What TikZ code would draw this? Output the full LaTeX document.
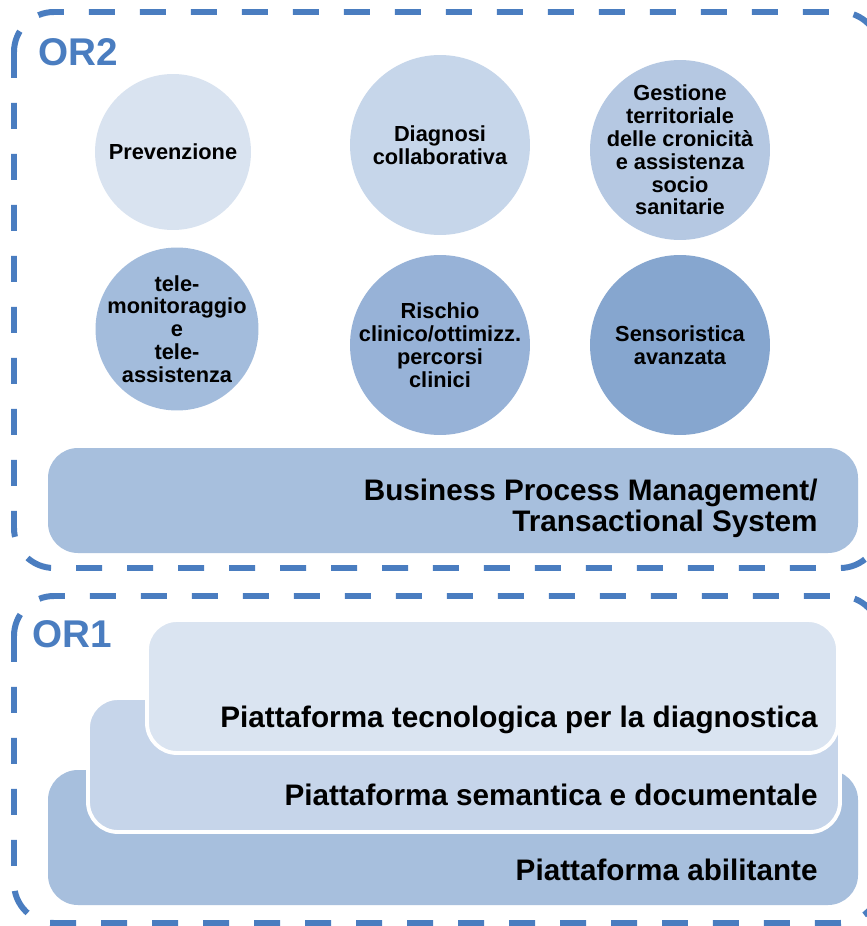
\documentclass[tikz,border=0pt]{standalone}
\usepackage{fontspec}
\setmainfont{Liberation Sans}
\usetikzlibrary{positioning}
\definecolor{orblue}{HTML}{4A7DC0}
\definecolor{bubA}{HTML}{D9E3F0}
\definecolor{bubB}{HTML}{C6D6EA}
\definecolor{bubC}{HTML}{B5C8E2}
\definecolor{bubD}{HTML}{A3BCDC}
\definecolor{bubE}{HTML}{97B2D7}
\definecolor{bubF}{HTML}{86A6CF}
\definecolor{layA}{HTML}{A7BFDD}
\definecolor{layB}{HTML}{C6D5EA}
\definecolor{layC}{HTML}{DAE4F1}
\tikzset{
  dashbox/.style={draw=orblue,line width=3.4pt,dash pattern=on 0.52cm off 0.5cm,rounded corners=0.8cm},
  bubble/.style={circle,inner sep=0pt},
  bubtext/.style={align=center,inner sep=0pt,font=\bfseries\fontsize{12.4}{13}\selectfont},
  layer/.style={rounded corners=0.6cm,draw=white,line width=2.2pt},
  layertext/.style={anchor=base east,inner sep=0pt,font=\bfseries\fontsize{16.9}{19}\selectfont},
  orlabel/.style={anchor=base west,inner sep=0pt,text=orblue,font=\bfseries\fontsize{22}{26}\selectfont}
}
\begin{document}
\begin{tikzpicture}[x=0.02cm,y=-0.02cm]
\useasboundingbox[fill=white] (0,0) rectangle (866,926);
\draw[dashbox] (14,12) rectangle (880,568);
\draw[dashbox] (14,596) rectangle (880,923);
\node[orlabel] (or2) at (38,66) {OR2};
\node[orlabel] (or1) at (32,647) {OR1};
\fill[layA,rounded corners=0.6cm] (48,448) rectangle (858,553);
\node[layertext] (bpm1) at (818,500) {Business Process Management/};
\node[layertext,below=0.2cm of bpm1.base east,anchor=north east] (bpm2) {Transactional System};
\fill[layA,rounded corners=0.6cm] (48,770) rectangle (858,905);
\draw[layer,fill=layB] (88,698) rectangle (840,832);
\draw[layer,fill=layC] (147,620) rectangle (838,753);
\node[layertext] (pt) at (818,727) {Piattaforma tecnologica per la diagnostica};
\node[layertext] (ps) at (818,805) {Piattaforma semantica e documentale};
\node[layertext] (pa) at (818,880) {Piattaforma abilitante};
\node[bubble,fill=bubA,minimum size=3.12cm] (prev) at (173,152) {};
\node[bubble,fill=bubB,minimum size=3.6cm] (diag) at (440,145) {};
\node[bubble,fill=bubC,minimum size=3.6cm] (gest) at (680,150) {};
\node[bubble,fill=bubD,minimum size=3.26cm] (tele) at (177,329) {};
\node[bubble,fill=bubE,minimum size=3.6cm] (risc) at (440,345) {};
\node[bubble,fill=bubF,minimum size=3.6cm] (sens) at (680,345) {};
\node[bubtext] at (prev) {Prevenzione};
\node[bubtext] at (diag) {Diagnosi\\collaborativa};
\node[bubtext] at (gest) {Gestione\\territoriale\\delle cronicità\\e assistenza\\socio\\sanitarie};
\node[bubtext] at (tele) {tele-\\monitoraggio\\e\\tele-\\assistenza};
\node[bubtext] at (risc) {Rischio\\clinico/ottimizz.\\percorsi\\clinici};
\node[bubtext] at (sens) {Sensoristica\\avanzata};
\end{tikzpicture}
\end{document}
